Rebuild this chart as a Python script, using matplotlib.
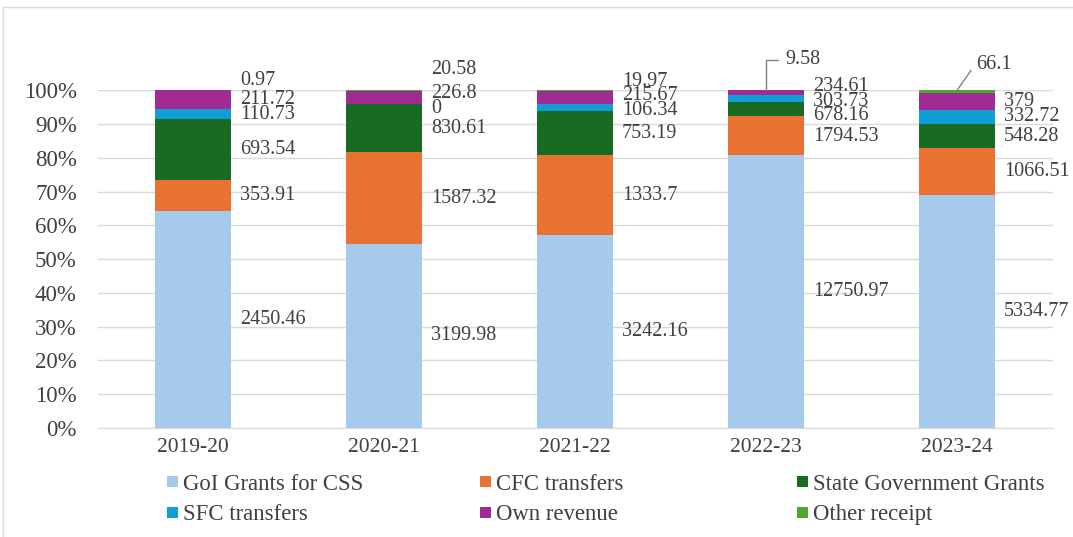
import matplotlib
matplotlib.use("Agg")
import matplotlib.pyplot as plt
import numpy as np
from matplotlib.patches import Rectangle

years = ["2019-20", "2020-21", "2021-22", "2022-23", "2023-24"]
sources = ["GoI Grants for CSS", "CFC transfers", "State Government Grants",
           "SFC transfers", "Own revenue", "Other receipt"]

# receipts by source, bottom of the stack first
goi_css = [2450.46, 3199.98, 3242.16, 12750.97, 5334.77]
cfc = [353.91, 1587.32, 1333.7, 1794.53, 1066.51]
state_grants = [693.54, 830.61, 753.19, 678.16, 548.28]
sfc = [110.73, 0, 106.34, 303.73, 332.72]
own_revenue = [211.72, 226.8, 215.67, 234.61, 379]
other_receipt = [0.97, 20.58, 19.97, 9.58, 66.1]

colors = ["#A6CAEC", "#E97132", "#196B24", "#0F9ED5", "#A02B93", "#4EA72E"]
top_label_y = [103, 106, 102.5, 109, 107.5]   # where the top label of each column sits
leader_angle = [None, None, None, 90, 55]     # columns whose top label hangs on a leader line

plt.rcParams['font.family'] = ['Liberation Serif', 'DejaVu Serif']

values = np.array([goi_css, cfc, state_grants, sfc, own_revenue, other_receipt])
shares = values / values.sum(axis=0) * 100


def fmt(v):
    return f"{v:.2f}".rstrip("0").rstrip(".")


fig = plt.figure(figsize=(10.73, 5.37), dpi=100)
ax = fig.add_axes([0.091, 0.203, 0.890, 0.629])

x = np.arange(len(years))
width = 0.40
handles = []
bottom = np.zeros(len(years))
for i in range(len(sources)):
    b = ax.bar(x, shares[i], width, bottom=bottom, color=colors[i],
               label=sources[i], zorder=2)
    handles.append(b)
    bottom += shares[i]

# value labels right of each bar; spread the thin slices apart with one pass
# from the bottom and one from the top, then take the middle of the two
gap = 4.4
label_color = "#404040"
n = len(sources)
for j in range(len(years)):
    tops = np.cumsum(shares[:, j])
    centers = tops - shares[:, j] / 2
    up = np.zeros(n)
    down = np.zeros(n)
    prev = -100
    for i in range(n - 1):
        up[i] = max(centers[i], prev + gap)
        prev = up[i]
    prev = top_label_y[j]
    for i in range(n - 2, -1, -1):
        down[i] = min(centers[i], prev - gap)
        prev = down[i]
    ys = (up + down) / 2
    ys[n - 1] = top_label_y[j]

    for i in range(n):
        txt = fmt(values[i, j])
        if i == n - 1 and leader_angle[j] is not None:
            ax.annotate(txt, xy=(x[j], tops[i]), xytext=(x[j] + 0.1, ys[i]),
                        ha="left", va="center", fontsize=14.5, color=label_color,
                        annotation_clip=False,
                        arrowprops=dict(arrowstyle="-", color="#808080", lw=1,
                                        relpos=(0, 0.5), shrinkA=3, shrinkB=0,
                                        connectionstyle=f"angle,angleA=0,angleB={leader_angle[j]},rad=0"))
        else:
            ax.text(x[j] + width / 2 + 0.045, ys[i], txt, ha="left", va="center",
                    fontsize=14.5, color=label_color, clip_on=False)

ax.set_xlim(-0.5, len(years) - 0.5)
ax.set_ylim(0, 100)
ax.set_yticks(np.arange(0, 101, 10))
ax.set_yticklabels([f"{v}%" for v in range(0, 101, 10)])
ax.set_xticks(x)
ax.set_xticklabels(years)
ax.tick_params(length=0, labelcolor="#404040")
ax.tick_params(axis="x", pad=7, labelsize=15.5)
ax.tick_params(axis="y", pad=15, labelsize=16.5)
ax.grid(axis="y", color="#D9D9D9", lw=1, zorder=0)
for s in ["top", "left", "right"]:
    ax.spines[s].set_visible(False)
ax.spines["bottom"].set_color("#D9D9D9")

# legend laid out as three evenly spaced columns
col_x = [0.1556, 0.447, 0.743]
for c in range(3):
    fig.legend([handles[c], handles[c + 3]], [sources[c], sources[c + 3]],
               loc="upper left", bbox_to_anchor=(col_x[c], 0.118),
               frameon=False, fontsize=16.4, handlelength=0.48, handleheight=0.4,
               handletextpad=0.22, labelspacing=0.43, borderpad=0, borderaxespad=0,
               labelcolor="#404040")

fig.patches.append(Rectangle((0.003, -0.05), 1.2, 1.05 - 7 / 537, transform=fig.transFigure,
                             fill=False, edgecolor="#D9D9D9", lw=1))

fig.savefig("out.png", dpi=100)
